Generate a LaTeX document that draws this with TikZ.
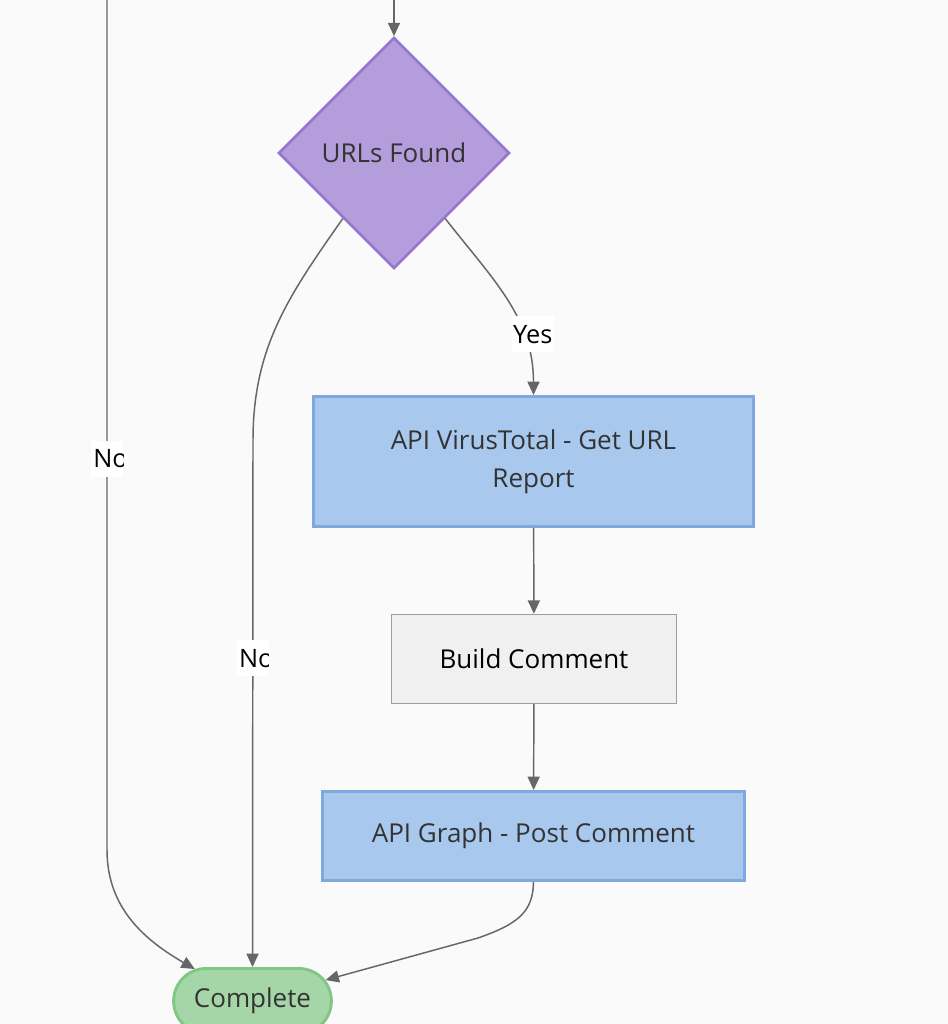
\documentclass[tikz,border=0pt]{standalone}
\usepackage{fontspec}
\setmainfont{Open Sans}
\usetikzlibrary{arrows.meta,shapes.geometric,shapes.misc}

\definecolor{bgcol}{HTML}{FAFAFA}
\definecolor{apifill}{HTML}{A8C8EE}
\definecolor{apiline}{HTML}{7EA8DE}
\definecolor{stepfill}{HTML}{F0F0F0}
\definecolor{stepline}{HTML}{9E9E9E}
\definecolor{condfill}{HTML}{B39DDB}
\definecolor{condline}{HTML}{9575CD}
\definecolor{endfill}{HTML}{A5D6A7}
\definecolor{endline}{HTML}{81C784}
\definecolor{edgecol}{HTML}{666666}
\definecolor{txtcol}{HTML}{333333}

\newcommand{\nodefont}{\fontsize{19.5}{28.5}\selectfont}
\newcommand{\lblfont}{\fontsize{19}{22}\selectfont}

\begin{document}
\begin{tikzpicture}[
    x=0.75pt, y=0.75pt,
    box/.style={rectangle, draw=apiline, fill=apifill, line width=2.2pt,
                align=center, font=\nodefont, text=txtcol},
    plainbox/.style={rectangle, draw=stepline, fill=stepfill, line width=1.1pt,
                align=center, font=\nodefont, text=black},
    cond/.style={diamond, aspect=1, draw=condline, fill=condfill, line width=2pt,
                font=\nodefont, text=txtcol, minimum size=173.25pt, inner sep=0pt},
    term/.style={rounded rectangle, draw=endline, fill=endfill, line width=2.2pt,
                font=\nodefont, text=txtcol, minimum width=125pt, minimum height=48.75pt},
    flow/.style={->, draw=edgecol, line width=1.1pt},
    lbl/.style={fill=white, inner sep=1pt, minimum height=27pt, font=\lblfont, text=black},
    cutlbl/.style={fill=white, inner sep=0pt, minimum width=24pt, minimum height=27pt,
                path picture={\node[anchor=west, inner sep=0pt, fill=none, draw=none,
                    minimum width=0pt, minimum height=0pt, font=\lblfont, text=black]
                    at ([xshift=1.2pt]path picture bounding box.west) {#1};}},
    >={Triangle[length=10pt, width=9pt]}
]

% Hoja y fondo
\useasboundingbox (0,0) rectangle (948,-1024);
\clip (0,0) rectangle (948,-1024);
\fill[bgcol] (0,0) rectangle (948,-1024);

% Nodos
\node[cond] (found) at (394,-153) {URLs Found};

\node[box, minimum width=330pt, minimum height=97.5pt] (report) at (533.5,-461.5)
    {API VirusTotal - Get URL\\Report};

\node[plainbox, minimum width=213.75pt, minimum height=66.75pt] (build) at (534,-659)
    {Build Comment};

\node[box, minimum width=316.5pt, minimum height=66.75pt] (post) at (533.5,-836)
    {API Graph - Post Comment};

\node[term] (done) at (252.5,-1001) {Complete};

% Extremos libres arriba
\coordinate (topleft) at (107,2);
\coordinate (topmid) at (394,2);

% Flechas
\draw[flow] (topleft) -- node[cutlbl=No, pos=0.541] {} (107,-850)
    to[out=-90, in=150] (done.151);
\draw[flow] (topmid) -- (found.north);
\draw[flow] (found.232) to[out=-125, in=90] (253,-440)
    -- node[cutlbl=No, pos=0.414] {} (done.north);
\draw[flow] (found.308) to[out=-52, in=90]
    node[lbl, pos=0.7, xshift=7pt] {Yes} (report.north);
\draw[flow] (report) -- (build);
\draw[flow] (build) -- (post);
\draw[flow] (post.south) .. controls (533,-912) and (518,-924) .. (478,-938)
    -- (done.16);

\end{tikzpicture}
\end{document}
